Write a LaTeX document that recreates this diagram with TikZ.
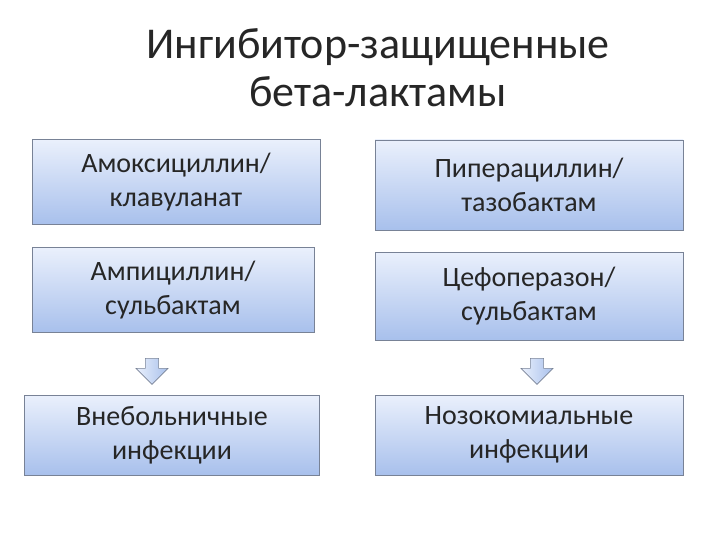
\documentclass[tikz,border=0pt]{standalone}
\usepackage{fontspec}
\setmainfont{Carlito}
\usetikzlibrary{shapes.arrows}
\definecolor{btop}{RGB}{234,240,252}
\definecolor{bbot}{RGB}{168,192,236}
\definecolor{bdr}{RGB}{120,130,150}
\tikzset{
  box/.style={draw=bdr, line width=0.8pt, top color=btop, bottom color=bbot, minimum height=85pt, align=center, font=\fontsize{28}{34}\selectfont, text=black!85},
  darrow/.style={single arrow, draw=bdr, line width=0.6pt, top color=btop, bottom color=bbot, shading angle=90, minimum height=26pt, minimum width=32pt, single arrow head extend=6pt, shape border rotate=270, inner sep=4pt}
}
\begin{document}
\begin{tikzpicture}[x=1pt,y=-1pt]
\useasboundingbox (0,0) rectangle (720,540);
\node[align=center, font=\fontsize{44}{48}\selectfont, text=black!85] (t) at (378,68) {Ингибитор-защищенные\\бета-лактамы};
\node[box, minimum width=288pt] (a1) at (176,182) {Амоксициллин/\\клавуланат};
\node[box, minimum width=282pt] (a2) at (173,290) {Ампициллин/\\сульбактам};
\node[box, minimum width=295pt, minimum height=80pt] (a3) at (172,435) {Внебольничные\\инфекции};
\node[box, minimum width=308pt, minimum height=90pt] (b1) at (529,185) {Пиперациллин/\\тазобактам};
\node[box, minimum width=308pt, minimum height=88pt] (b2) at (529,296) {Цефоперазон/\\сульбактам};
\node[box, minimum width=308pt, minimum height=80pt] (b3) at (529,435) {Нозокомиальные\\инфекции};
\node[darrow] (r1) at (152,368) {};
\node[darrow] (r2) at (537,368) {};
\end{tikzpicture}
\end{document}
